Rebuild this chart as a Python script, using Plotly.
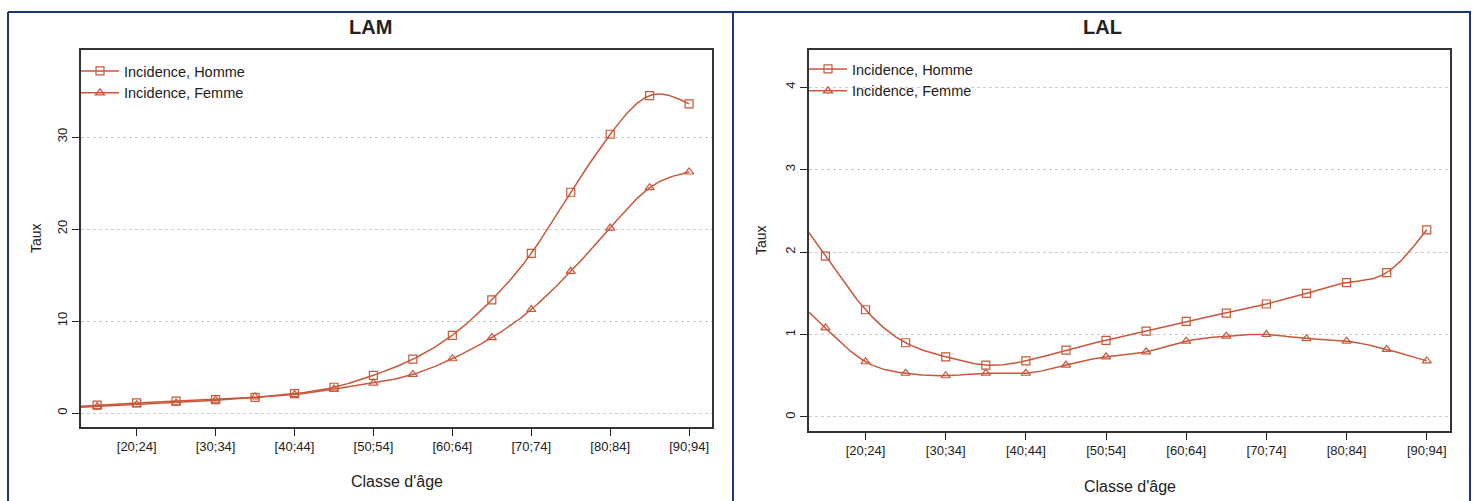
import numpy as np
import plotly.graph_objects as go

# ---------------- data ----------------
categories = ["[15;19]", "[20;24]", "[25;29]", "[30;34]", "[35;39]", "[40;44]", "[45;49]", "[50;54]",
              "[55;59]", "[60;64]", "[65;69]", "[70;74]", "[75;79]", "[80;84]", "[85;89]", "[90;94]"]
tick_labels = ["[20;24]", "[30;34]", "[40;44]", "[50;54]", "[60;64]", "[70;74]", "[80;84]", "[90;94]"]

lam_homme = [0.85, 1.1, 1.3, 1.45, 1.7, 2.1, 2.8, 4.1, 5.85, 8.45, 12.3, 17.35, 24.0, 30.3, 34.5, 33.6]
lam_femme = [0.7, 0.9, 1.1, 1.4, 1.75, 2.0, 2.6, 3.25, 4.2, 5.9, 8.2, 11.25, 15.4, 20.1, 24.5, 26.2]
lal_homme = [1.95, 1.30, 0.90, 0.73, 0.63, 0.68, 0.81, 0.93, 1.04, 1.16, 1.26, 1.37, 1.50, 1.63, 1.75, 2.27]
lal_femme = [1.08, 0.67, 0.53, 0.50, 0.53, 0.53, 0.63, 0.73, 0.79, 0.92, 0.98, 1.00, 0.95, 0.92, 0.82, 0.68]

lam_yticks = [0, 10, 20, 30]
lal_yticks = [0, 1, 2, 3, 4]

series_names = ["Incidence, Homme", "Incidence, Femme"]
COLOR = "#c9573a"
FRAME = "#1b3577"
W, H = 1477, 501


def natural_spline(y, xs):
    y = np.asarray(y, float)
    n = len(y)
    A = np.zeros((n, n))
    b = np.zeros(n)
    A[0, 0] = 1
    A[-1, -1] = 1
    for i in range(1, n - 1):
        A[i, i - 1] = 1
        A[i, i] = 4
        A[i, i + 1] = 1
        b[i] = 6 * (y[i + 1] - 2 * y[i] + y[i - 1])
    M = np.linalg.solve(A, b)
    out = []
    for x in xs:
        i = int(np.clip(np.floor(x), 0, n - 2))
        t = x - i
        s = ((1 - t) * y[i] + t * y[i + 1]
             + ((1 - t) ** 3 - (1 - t)) * M[i] / 6
             + (t ** 3 - t) * M[i + 1] / 6)
        out.append(s)
    return np.array(out)


xi = np.arange(len(categories))
x_lo, x_hi = -0.41, 15.58
dense = np.linspace(x_lo, len(categories) - 1, 500)
tickvals = [categories.index(t) for t in tick_labels]

fig = go.Figure()

panels = [
    ("x", "y", "legend", [lam_homme, lam_femme]),
    ("x2", "y2", "legend2", [lal_homme, lal_femme]),
]
symbols = ["square-open", "triangle-up-open"]

for xa, ya, lg, series in panels:
    for name, vals, sym in zip(series_names, series, symbols):
        fig.add_trace(go.Scatter(x=dense, y=natural_spline(vals, dense), mode="lines",
                                 line=dict(color=COLOR, width=1.5), xaxis=xa, yaxis=ya,
                                 showlegend=False, hoverinfo="skip"))
        fig.add_trace(go.Scatter(x=xi, y=vals, mode="markers", xaxis=xa, yaxis=ya,
                                 marker=dict(symbol=sym, size=8, color=COLOR, line=dict(width=1.2, color=COLOR)),
                                 showlegend=False, name=name))
        fig.add_trace(go.Scatter(x=[None], y=[None], mode="lines+markers", xaxis=xa, yaxis=ya,
                                 name=name, legend=lg,
                                 line=dict(color=COLOR, width=1.5),
                                 marker=dict(symbol=sym, size=8, color=COLOR, line=dict(width=1.2, color=COLOR))))

tickfont = dict(family="Liberation Sans Narrow, Arial Narrow, Liberation Sans, Arial", size=13, color="#222")
xcommon = dict(range=[x_lo, x_hi], tickvals=tickvals, ticktext=tick_labels, ticks="outside", ticklen=7,
               tickwidth=1.2, tickcolor="#222", showline=True, mirror=True, linecolor="#333", linewidth=1.5,
               showgrid=False, zeroline=False, tickfont=tickfont)
ycommon = dict(ticks="outside", ticklen=7, tickwidth=1.2, tickcolor="#222", showline=True, mirror=True,
               linecolor="#333", linewidth=1.5, showgrid=True, gridcolor="#cccccc", griddash="dot",
               gridwidth=1, zeroline=False, tickangle=-90, tickfont=tickfont)

legend_font = dict(size=14.5, family="Liberation Sans, Arial", color="#222")
fig.update_layout(
    width=W, height=H, autosize=False,
    margin=dict(l=0, r=0, t=0, b=0),
    paper_bgcolor="white", plot_bgcolor="white",
    font=dict(family="Liberation Sans, Arial", color="#222"),
    xaxis=dict(domain=[81 / W, 712 / W], anchor="y", **xcommon),
    yaxis=dict(domain=[1 - 427 / H, 1 - 50 / H], anchor="x", range=[-1.52, 39.46],
               tickvals=lam_yticks, **ycommon),
    xaxis2=dict(domain=[809 / W, 1450 / W], anchor="y2", **xcommon),
    yaxis2=dict(domain=[1 - 431 / H, 1 - 50 / H], anchor="x2", range=[-0.17, 4.45],
                tickvals=lal_yticks, **ycommon),
    legend=dict(x=76 / W, y=1 - 55 / H, xanchor="left", yanchor="top", bgcolor="rgba(0,0,0,0)",
                font=legend_font, itemwidth=38, tracegroupgap=0),
    legend2=dict(x=804 / W, y=1 - 53 / H, xanchor="left", yanchor="top", bgcolor="rgba(0,0,0,0)",
                 font=legend_font, itemwidth=38, tracegroupgap=0),
    showlegend=True,
)

ann_font = dict(family="Liberation Sans, Arial", color="#222")
annotations = [
    dict(text="<b>LAM</b>", x=370 / W, y=1 - 27 / H, font=dict(size=20, **ann_font)),
    dict(text="<b>LAL</b>", x=1102 / W, y=1 - 27 / H, font=dict(size=20, **ann_font)),
    dict(text="Taux", x=36 / W, y=1 - 238 / H, textangle=-90, font=dict(size=14, **ann_font)),
    dict(text="Taux", x=761 / W, y=1 - 240 / H, textangle=-90, font=dict(size=14, **ann_font)),
    dict(text="Classe d'âge", x=397 / W, y=1 - 481 / H, font=dict(size=16, family="Liberation Sans Narrow, Liberation Sans, Arial", color="#222")),
    dict(text="Classe d'âge", x=1130 / W, y=1 - 486 / H, font=dict(size=16, family="Liberation Sans Narrow, Liberation Sans, Arial", color="#222")),
]
for a in annotations:
    a.update(xref="paper", yref="paper", showarrow=False, xanchor="center", yanchor="middle")
fig.update_layout(annotations=annotations)

# blue panel frame
def px(x):
    return x / W

def py(y):
    return 1 - y / H

shapes = [
    dict(type="line", x0=px(8), x1=px(1471), y0=py(12), y1=py(12)),
    dict(type="line", x0=px(8), x1=px(8), y0=py(12), y1=0),
    dict(type="line", x0=px(733), x1=px(733), y0=py(12), y1=0),
    dict(type="line", x0=px(1470), x1=px(1470), y0=py(12), y1=0),
]
for s in shapes:
    s.update(xref="paper", yref="paper", line=dict(color=FRAME, width=2), layer="above")
fig.update_layout(shapes=shapes)

fig.write_html("out.html", config={"displayModeBar": False},
               post_script="document.body.style.margin='0px';document.body.style.padding='0px';")
